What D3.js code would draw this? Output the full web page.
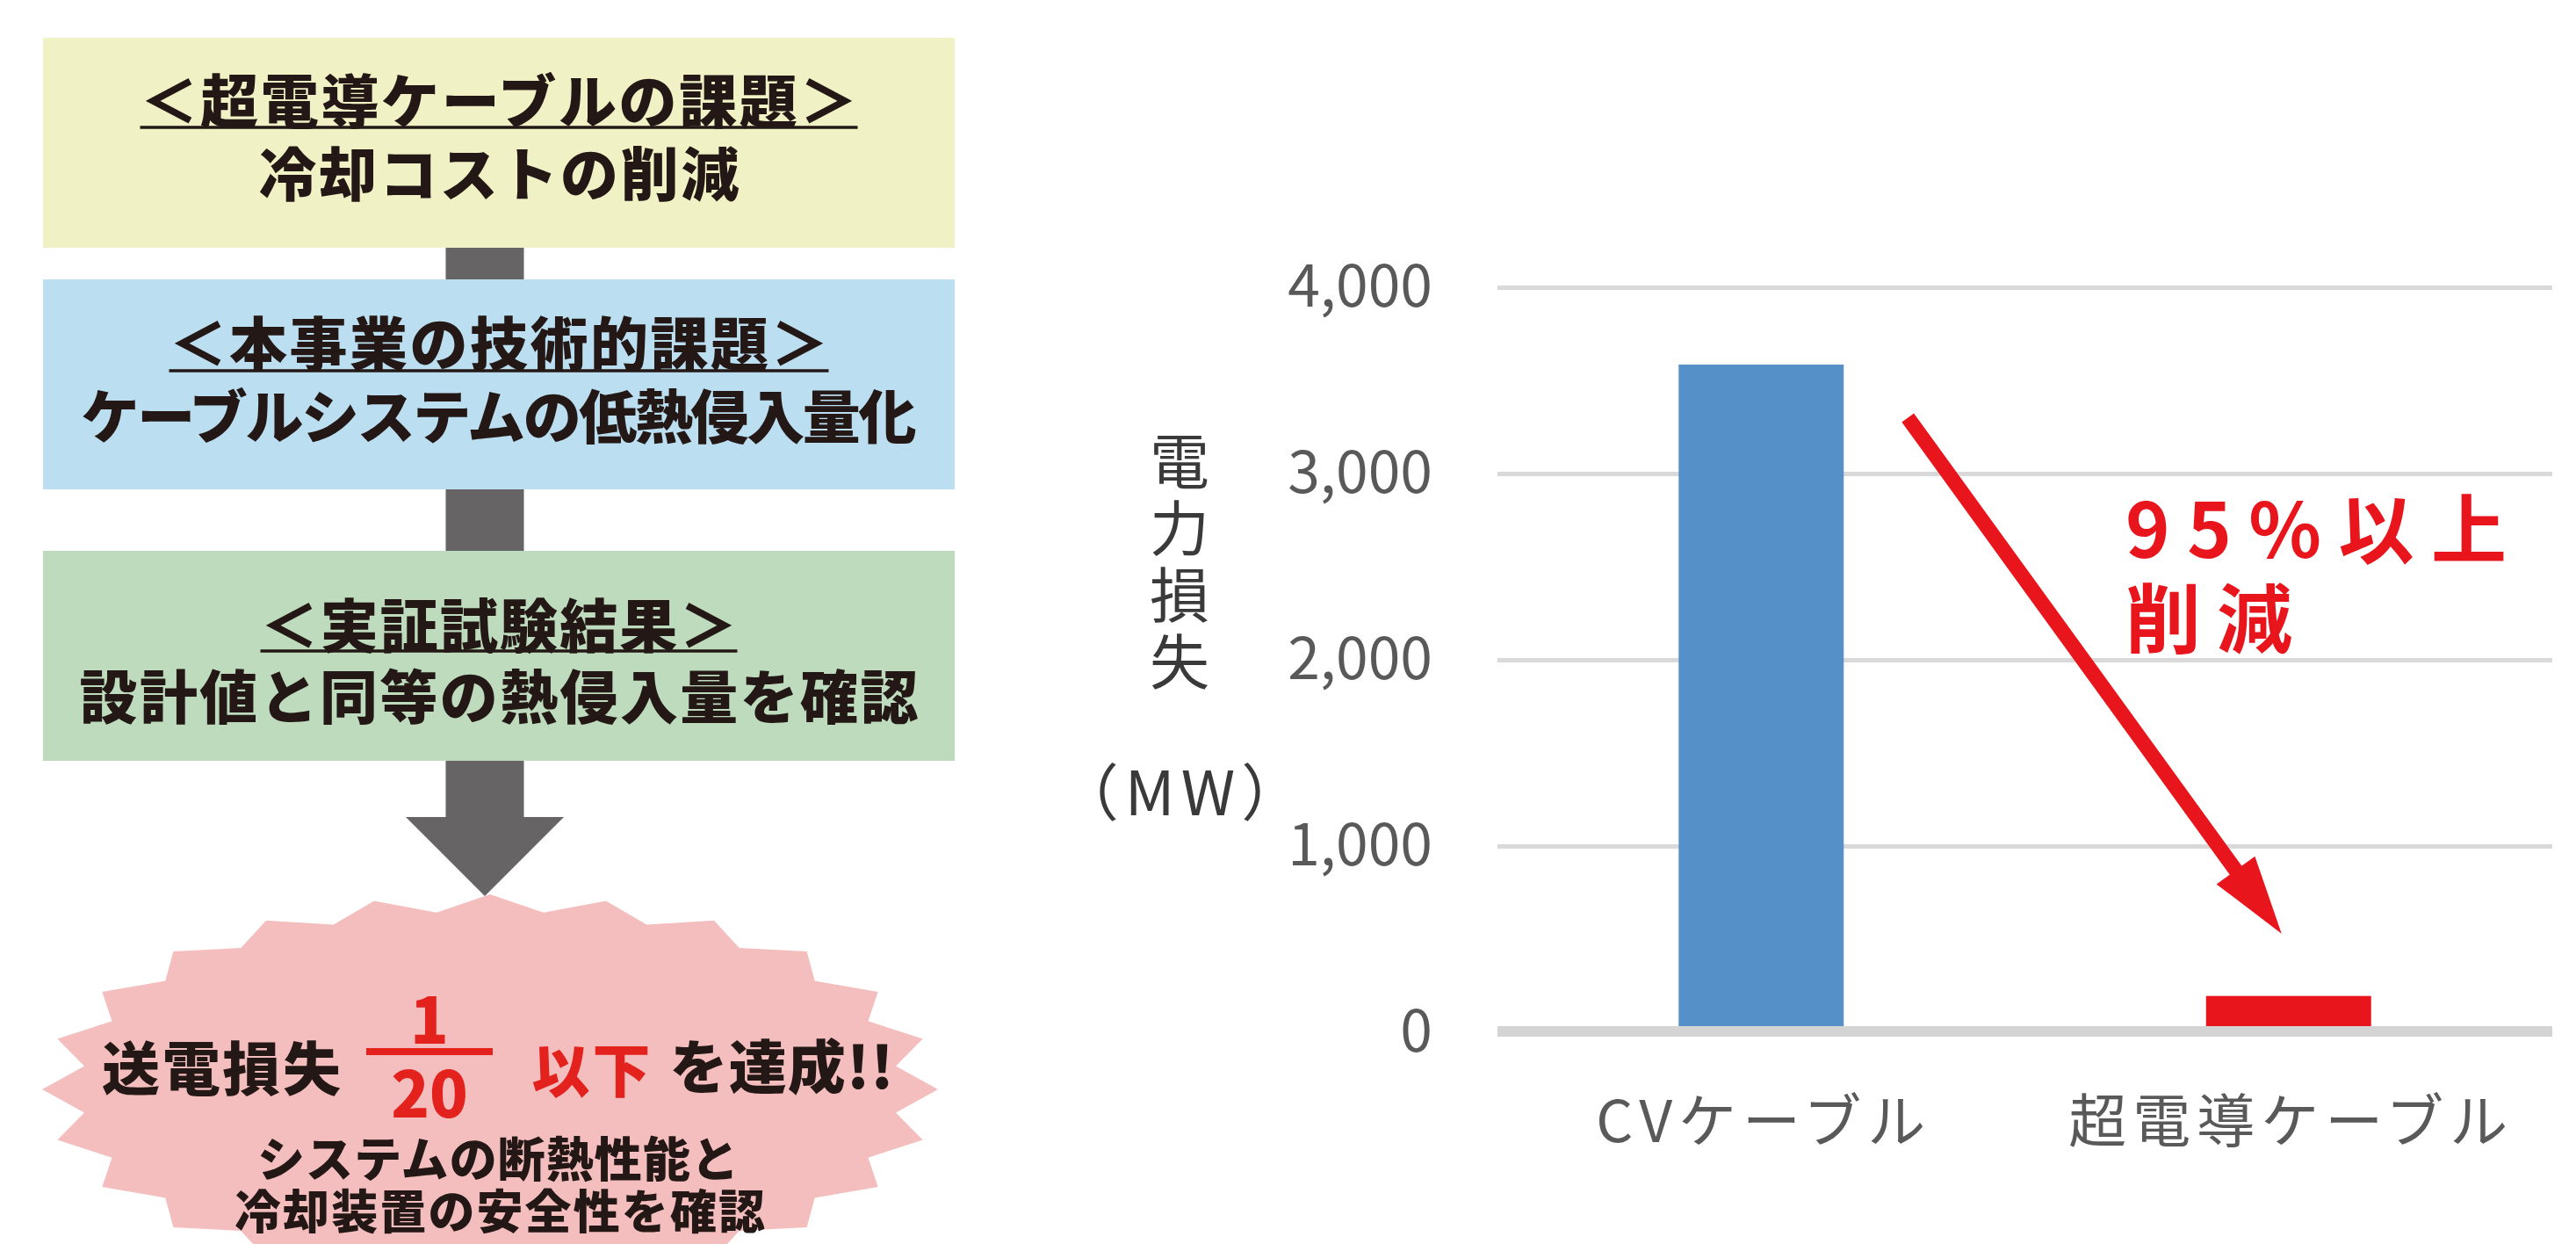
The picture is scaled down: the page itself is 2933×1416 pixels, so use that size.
<!DOCTYPE html>
<html lang="ja">
<head>
<meta charset="utf-8">
<script src="https://cdn.jsdelivr.net/npm/d3@7"></script>
<style>
  body { margin: 0; background: #fff; }
  svg { display: block; }
  text { font-family: "Noto Sans CJK JP", "Noto Sans", sans-serif; }
</style>
</head>
<body>
<script>
// ---- chart data ----
var categories = ["CVケーブル", "超電導ケーブル"];
var losses = [3585, 195];                 // 電力損失 (MW)
var barColors = ["#5591c8", "#e8161c"];
var yTicks = [0, 1000, 2000, 3000, 4000];
var yTitle = "電力損失";
var yUnit = "（MW）";
var callout = ["95%以上", "削減"];

// ---- flow text ----
var boxTitles = ["＜超電導ケーブルの課題＞", "＜本事業の技術的課題＞", "＜実証試験結果＞"];
var boxBodies = ["冷却コストの削減", "ケーブルシステムの低熱侵入量化", "設計値と同等の熱侵入量を確認"];
var boxFills = ["#f0f2c6", "#bbdff0", "#bedcbd"];
var burstLead = "送電損失";
var burstFrac = ["1", "20"];
var burstRed = "以下";
var burstTail = "を達成!!";
var burstNotes = ["システムの断熱性能と", "冷却装置の安全性を確認"];

var W = 2933, H = 1416;
var dark = "#231815", red = "#e3221e";

var svg = d3.select("body").append("svg")
	.attr("width", W)
	.attr("height", H);

// ================= left: flow =================
var boxX = 49, boxW = 1038, boxH = 239;
var boxTops = [43, 318, 627];
var titleY = [111, 387, 708];
var titleLen = [817, 751, 543];
var underY = [145, 422, 741];
var bodyY = [194, 470, 789];
var bodyLen = [547, 951, 955];
var midX = 552, stemW = 89;

// connectors between boxes
svg.selectAll("rect.stem")
	.data([0, 1])
	.enter().append("rect")
	.attr("class", "stem")
	.attr("x", midX - stemW / 2)
	.attr("width", stemW)
	.attr("y", function(i){ return boxTops[i] + boxH; })
	.attr("height", function(i){ return boxTops[i + 1] - boxTops[i] - boxH; })
	.attr("fill", "#666465");

// big arrow into the burst
var ab = boxTops[2] + boxH;
svg.append("path")
	.attr("d", "M" + (midX - stemW / 2) + "," + ab + "V930H" + (midX - 90) + "L" + midX + ",1020L" + (midX + 90) + ",930H" + (midX + stemW / 2) + "V" + ab + "Z")
	.attr("fill", "#666465");

var boxes = svg.selectAll("g.box")
	.data(boxTitles)
	.enter().append("g")
	.attr("class", "box");

boxes.append("rect")
	.attr("x", boxX)
	.attr("y", function(d, i){ return boxTops[i]; })
	.attr("width", boxW)
	.attr("height", boxH)
	.attr("fill", function(d, i){ return boxFills[i]; });

boxes.append("text")
	.attr("x", boxX + boxW / 2)
	.attr("y", function(d, i){ return titleY[i]; })
	.attr("text-anchor", "middle")
	.attr("dominant-baseline", "central")
	.attr("textLength", function(d, i){ return titleLen[i]; })
	.attr("lengthAdjust", "spacing")
	.attr("font-size", 66)
	.attr("font-weight", 900)
	.attr("fill", dark)
	.text(function(d){ return d; });

boxes.append("line")
	.attr("x1", function(d, i){ return boxX + boxW / 2 - titleLen[i] / 2; })
	.attr("x2", function(d, i){ return boxX + boxW / 2 + titleLen[i] / 2; })
	.attr("y1", function(d, i){ return underY[i]; })
	.attr("y2", function(d, i){ return underY[i]; })
	.attr("stroke", dark)
	.attr("stroke-width", 3.5);

boxes.append("text")
	.attr("x", boxX + boxW / 2)
	.attr("y", function(d, i){ return bodyY[i]; })
	.attr("text-anchor", "middle")
	.attr("dominant-baseline", "central")
	.attr("textLength", function(d, i){ return bodyLen[i]; })
	.attr("lengthAdjust", "spacing")
	.attr("font-size", 66)
	.attr("font-weight", 900)
	.attr("fill", dark)
	.text(function(d, i){ return boxBodies[i]; });

// starburst
var bcx = 558, bcy = 1240;
var pts = d3.range(48).map(function(i){
	var a = i * Math.PI / 24, outer = i % 2 == 0;
	var rx = outer ? 510 : 466, ry = outer ? 222 : 203;
	return [bcx + rx * Math.sin(a), bcy - ry * Math.cos(a)];
});
svg.append("path")
	.attr("d", d3.line().curve(d3.curveLinearClosed)(pts))
	.attr("fill", "#f4bebe");

function burstText(str, x, y, size, color, len){
	var t = svg.append("text")
		.attr("x", x).attr("y", y)
		.attr("text-anchor", "middle")
		.attr("dominant-baseline", "central")
		.attr("font-size", size)
		.attr("font-weight", 900)
		.attr("fill", color)
		.text(str);
	if(len){ t.attr("textLength", len).attr("lengthAdjust", "spacing"); }
	return t;
}
burstText(burstLead, 252, 1212, 66, dark, 272);
burstText(burstRed, 673, 1214, 66, red, 135);
burstText(burstTail, 890, 1210, 66, dark, 255);

// fraction 1/20 as one text block
var frac = svg.append("text")
	.attr("text-anchor", "middle")
	.attr("dominant-baseline", "central")
	.attr("font-size", 72)
	.attr("font-weight", 900)
	.attr("fill", red);
frac.selectAll("tspan")
	.data(burstFrac)
	.enter().append("tspan")
	.attr("x", 489)
	.attr("y", function(d, i){ return i == 0 ? 1156 : 1240; })
	.text(function(d){ return d; });
svg.append("rect")
	.attr("x", 417).attr("y", 1193)
	.attr("width", 144).attr("height", 8)
	.attr("fill", red);

// two note lines as one text block
var notes = svg.append("text")
	.attr("text-anchor", "middle")
	.attr("dominant-baseline", "central")
	.attr("font-weight", 900)
	.attr("fill", dark);
notes.selectAll("tspan")
	.data(burstNotes)
	.enter().append("tspan")
	.attr("x", function(d, i){ return i == 0 ? 567 : 569; })
	.attr("y", function(d, i){ return i == 0 ? 1316 : 1376; })
	.attr("font-size", function(d, i){ return i == 0 ? 54 : 53; })
	.attr("textLength", function(d, i){ return i == 0 ? 548 : 604; })
	.attr("lengthAdjust", "spacing")
	.text(function(d){ return d; });

// ================= right: bar chart =================
var x0 = 1705, x1 = 2906;
var x = d3.scaleBand()
	.domain(categories)
	.range([x0, x1])
	.paddingInner(0.687)
	.paddingOuter(0.3435);

var y = d3.scaleLinear()
	.domain([0, 4000])
	.range([1175, 327]);

var yAxis = d3.axisLeft(y)
	.tickValues(yTicks)
	.tickSize(-(x1 - x0))
	.tickPadding(74)
	.tickFormat(d3.format(","));

var ag = svg.append("g")
	.attr("transform", "translate(" + x0 + ",0)")
	.call(yAxis);
ag.select(".domain").remove();
ag.selectAll(".tick line")
	.attr("stroke", "#d9d9d9")
	.attr("stroke-width", 5);
ag.selectAll(".tick text")
	.attr("font-size", 66)
	.attr("font-family", "'Noto Sans CJK JP', sans-serif")
	.attr("fill", "#595959");

svg.selectAll("rect.bar")
	.data(losses)
	.enter().append("rect")
	.attr("class", "bar")
	.attr("x", function(d, i){ return x(categories[i]); })
	.attr("width", x.bandwidth())
	.attr("y", function(d){ return y(d); })
	.attr("height", function(d){ return y(0) - y(d); })
	.attr("fill", function(d, i){ return barColors[i]; });

// thick baseline at zero
svg.append("line")
	.attr("x1", x0).attr("x2", x1)
	.attr("y1", y(0) - 1).attr("y2", y(0) - 1)
	.attr("stroke", "#d4d4d4")
	.attr("stroke-width", 12);

svg.selectAll("text.xlab")
	.data(categories)
	.enter().append("text")
	.attr("class", "xlab")
	.attr("x", function(d){ return x(d) + x.bandwidth() / 2 + 3; })
	.attr("y", 1271)
	.attr("text-anchor", "middle")
	.attr("dominant-baseline", "central")
	.attr("font-size", 66)
	.attr("letter-spacing", 7)
	.attr("fill", "#595959")
	.text(function(d){ return d; });

// y title, set vertically
svg.append("text")
	.attr("x", 1343)
	.attr("y", 491)
	.attr("writing-mode", "tb")
	.attr("font-size", 68)
	.attr("letter-spacing", 8)
	.attr("fill", "#3a3a3a")
	.text(yTitle);
svg.append("text")
	.attr("x", 1347).attr("y", 897)
	.attr("text-anchor", "middle")
	.attr("dominant-baseline", "central")
	.attr("font-size", 70)
	.attr("letter-spacing", 7)
	.attr("fill", "#3a3a3a")
	.text(yUnit);

// red reduction arrow, anchored on the two bars
var ax1 = x(categories[0]) + x.bandwidth() + 73, ay1 = y(3300);
var ax2 = x(categories[1]) + x.bandwidth() / 2 - 8, ay2 = y(530);
var ang = Math.atan2(ay2 - ay1, ax2 - ax1);
var hl = 89, hw = 27;
var bx = ax2 - hl * Math.cos(ang), by = ay2 - hl * Math.sin(ang);
svg.append("line")
	.attr("x1", ax1).attr("y1", ay1)
	.attr("x2", bx + 4 * Math.cos(ang)).attr("y2", by + 4 * Math.sin(ang))
	.attr("stroke", "#e8161c")
	.attr("stroke-width", 17);
svg.append("path")
	.attr("d", "M" + ax2 + "," + ay2 +
		"L" + (bx + hw * Math.sin(ang)) + "," + (by - hw * Math.cos(ang)) +
		"L" + (bx - hw * Math.sin(ang)) + "," + (by + hw * Math.cos(ang)) + "Z")
	.attr("fill", "#e8161c");

// callout as one two-line text block
var co = svg.append("text")
	.attr("dominant-baseline", "central")
	.attr("font-size", 86)
	.attr("font-weight", 700)
	.attr("fill", "#e8161c");
co.selectAll("tspan")
	.data(callout)
	.enter().append("tspan")
	.attr("x", 2420)
	.attr("y", function(d, i){ return i == 0 ? 597 : 699; })
	.attr("textLength", function(d, i){ return i == 0 ? 434 : 190; })
	.attr("lengthAdjust", "spacing")
	.text(function(d){ return d; });
</script>
</body>
</html>
